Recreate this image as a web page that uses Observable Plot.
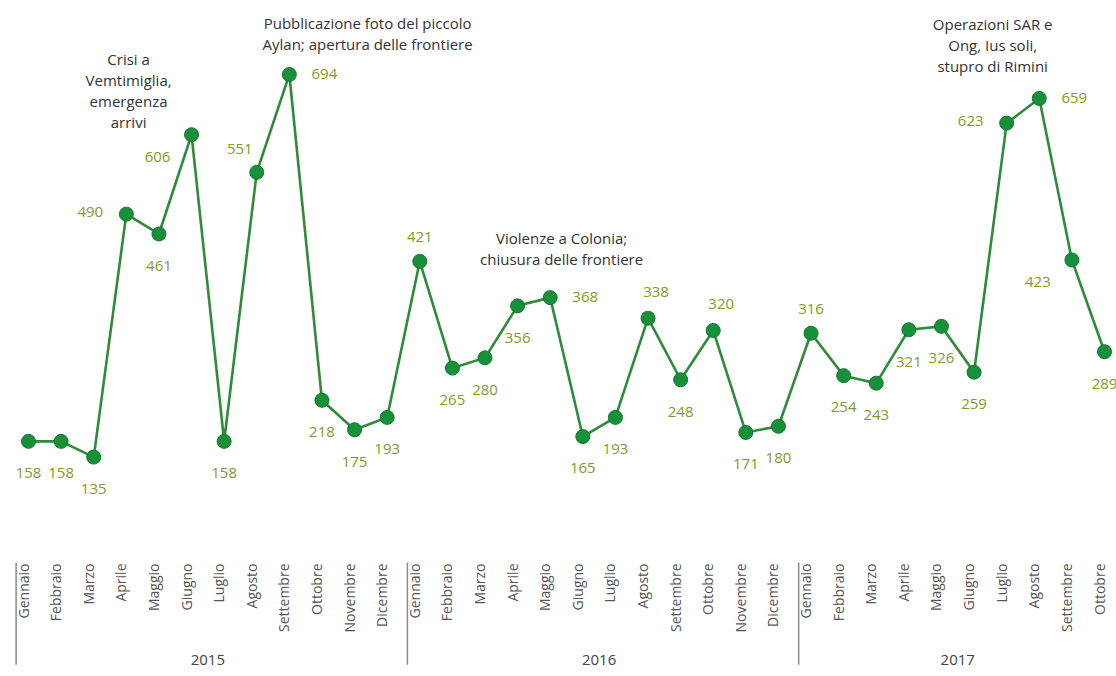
<!DOCTYPE html>
<html>
<head>
<meta charset="utf-8">
<script src="https://cdn.jsdelivr.net/npm/d3@7"></script>
<script src="https://cdn.jsdelivr.net/npm/@observablehq/plot@0.6"></script>
<style>
  html, body { margin: 0; padding: 0; background: #fff; }
  #chart svg { display: block; }
</style>
</head>
<body>
<div id="chart"></div>
<script>
// ---- data ----
const monthNames = ["Gennaio","Febbraio","Marzo","Aprile","Maggio","Giugno","Luglio","Agosto","Settembre","Ottobre","Novembre","Dicembre"];
const years = ["2015","2016","2017"];
const monthsPerYear = [12, 12, 10];
const values2015 = [158, 158, 135, 490, 461, 606, 158, 551, 694, 218, 175, 193];
const values2016 = [421, 265, 280, 356, 368, 165, 193, 338, 248, 320, 171, 180];
const values2017 = [316, 254, 243, 321, 326, 259, 623, 659, 423, 289];
// where each value label sits relative to its dot (style)
const labelSide = [
  "b","b","b","l","b","lb","b","la","r","b","b","b",
  "t","b","b","b","r","b","b","tr","b","tr","b","b",
  "t","b","b","b","b","b","l","r","lb","b"
];
const annotationTexts = [
  "Crisi a\nVemtimiglia,\nemergenza\narrivi",
  "Pubblicazione foto del piccolo\nAylan; apertura delle frontiere",
  "Violenze a Colonia;\nchiusura delle frontiere",
  "Operazioni SAR e\nOng, Ius soli,\nstupro di Rimini"
];
const annotationX = [3.07, 10.4, 16.35, 29.57];   // in month-index units
const annotationY = [671, 755, 441, 738];         // in value units

// ---- build tables ----
const seriesValues = [values2015, values2016, values2017];
const data = [];
const yearData = [];
let idx = 0;
years.forEach((y, k) => {
  const start = idx;
  for (let m = 0; m < monthsPerYear[k]; m++) {
    data.push({i: idx, month: monthNames[m], year: y, v: seriesValues[k][m], side: labelSide[idx]});
    idx++;
  }
  yearData.push({year: y, start, mid: (start + idx - 1) / 2});
});
const annotations = annotationTexts.map((t, k) => ({text: t, x: annotationX[k], y: annotationY[k]}));

const offsets = {
  b: [0, 32], t: [0, -24], tr: [8, -26], l: [-36, -2], r: [35, 0], lb: [-34, 22], la: [-17, -23]
};

const FONT = "Open Sans";
const labelColor = "#86992c";

const labelMarks = Object.entries(offsets).map(([side, [dx, dy]]) =>
  Plot.text(data.filter(d => d.side === side), {
    x: "i", y: "v", text: d => String(d.v), dx, dy,
    fill: labelColor, fontSize: 15, fontFamily: FONT
  })
);

const chart = Plot.plot({
  width: 1116,
  height: 676,
  marginTop: 0,
  marginRight: 0,
  marginBottom: 113,
  marginLeft: 0,
  x: {type: "linear", domain: [0, 33], range: [28, 1104], axis: null},
  y: {type: "linear", domain: [0, 694], range: [549, 74], axis: null},
  marks: [
    Plot.line(data, {x: "i", y: "v", stroke: "#2e8b3a", strokeWidth: 2.6}),
    Plot.dot(data, {x: "i", y: "v", r: 7, fill: "#17903a", stroke: "#12782e", strokeWidth: 1}),
    ...labelMarks,
    Plot.text(annotations, {x: "x", y: "y", text: "text", lineHeight: 1.4, fill: "#333", fontSize: 15, fontFamily: FONT}),
    Plot.text(data, {x: "i", text: "month", frameAnchor: "bottom", rotate: -90, textAnchor: "end", fill: "#555", fontSize: 14, fontFamily: FONT}),
    Plot.text(yearData, {x: "mid", text: "year", frameAnchor: "bottom", dy: 101, fill: "#444", fontSize: 15, fontFamily: FONT}),
    Plot.ruleX(yearData, {x: d => d.start - 0.38, y1: -20, y2: -169, stroke: "#8a8a8a", strokeWidth: 1.5})
  ]
});
document.getElementById("chart").appendChild(chart);
</script>
</body>
</html>
